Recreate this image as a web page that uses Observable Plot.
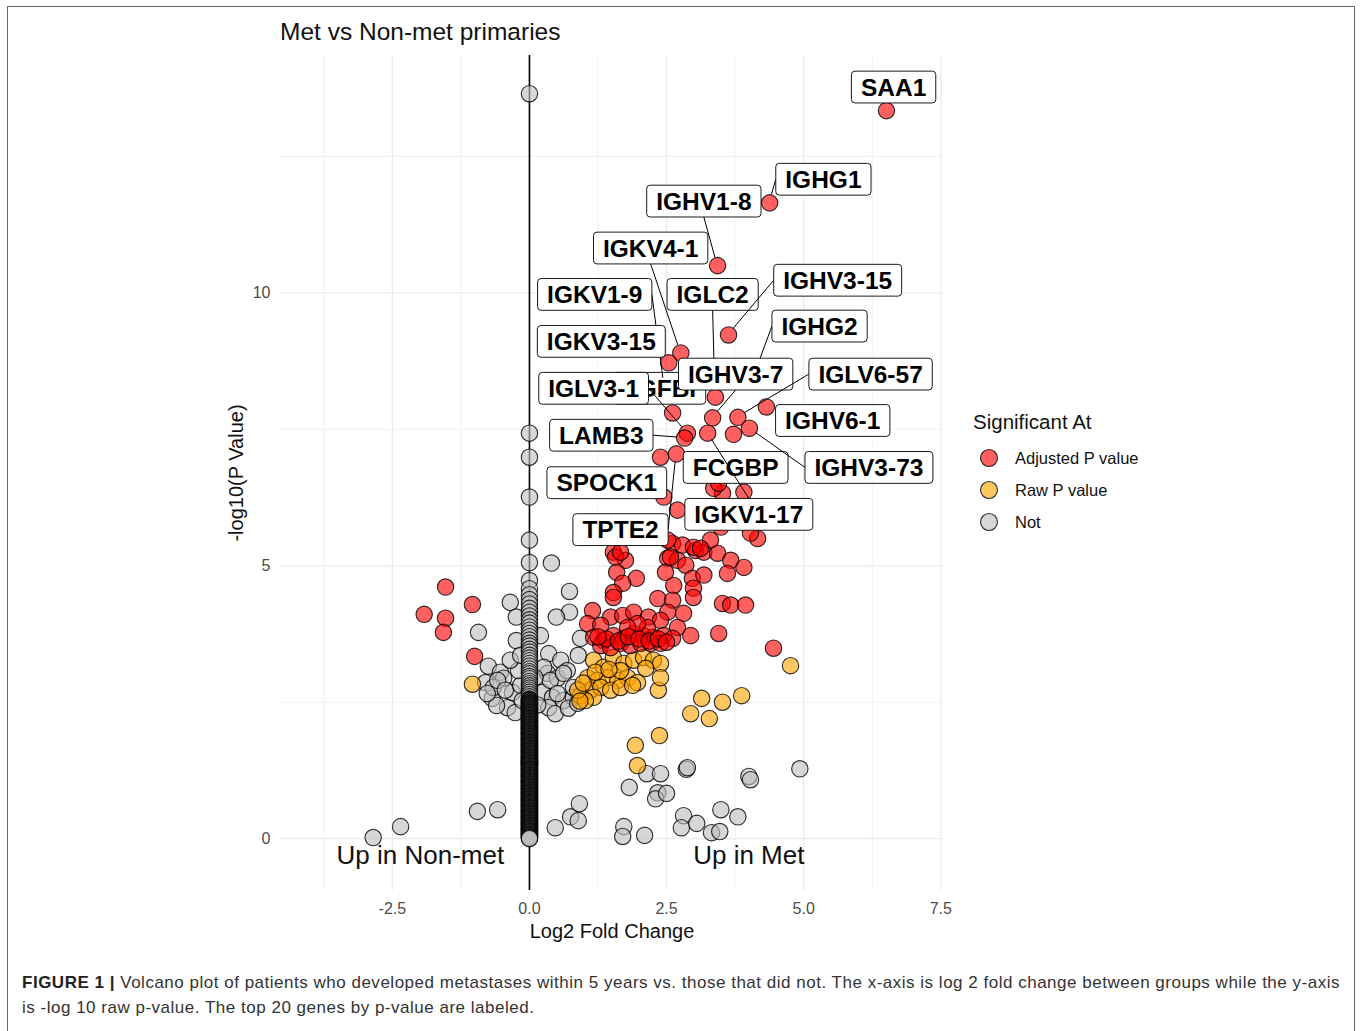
<!DOCTYPE html>
<html>
<head>
<meta charset="utf-8">
<script src="https://cdn.jsdelivr.net/npm/d3@7"></script>
<script src="https://cdn.jsdelivr.net/npm/@observablehq/plot@0.6"></script>
<style>
  html, body { margin: 0; padding: 0; background: #fff; }
  body { width: 1363px; height: 1031px; position: relative; overflow: hidden; font-family: "Liberation Sans", Arial, sans-serif; }
  #frame { position: absolute; left: 7px; top: 6px; width: 1348px; height: 1100px; border: 1.5px solid #666; border-bottom: none; box-sizing: border-box; }
  #title { position: absolute; left: 280px; top: 18px; font-size: 24.5px; color: #111; white-space: nowrap; }
  #chart { position: absolute; left: 0; top: 0; }
  #legend { position: absolute; left: 973px; top: 410px; color: #111; }
  #legend .lt { font-size: 20.5px; white-space: nowrap; }
  #legend .row { position: absolute; left: 0; white-space: nowrap; font-size: 16.5px; }
  #caption { position: absolute; left: 22px; top: 971px; font-size: 17px; line-height: 24.5px; color: #333; white-space: nowrap; }
  #caption b { color: #222; }
</style>
</head>
<body>
<div id="frame"></div>
<div id="chart"></div>
<div id="title">Met vs Non-met primaries</div>
<div id="legend"></div>
<div id="caption"><span id="cap1"><b>FIGURE 1 |</b> Volcano plot of patients who developed metastases within 5 years vs. those that did not. The x-axis is log 2 fold change between groups while the y-axis</span><br><span id="cap2">is -log 10 raw p-value. The top 20 genes by p-value are labeled.</span></div>
<script>
// ---------------- DATA (log2 fold change, -log10 p) ----------------
const groups = ["Adjusted P value", "Raw P value", "Not"];
const groupFills = ["#ff0000", "#ffa500", "#bebebe"];
const legendTitle = "Significant At";

const xTicks = [-2.5, 0, 2.5, 5, 7.5];
const xMinor = [-3.75, -1.25, 1.25, 3.75, 6.25];
const yTicks = [0, 5, 10];
const yMinor = [2.5, 7.5, 12.5];

// not significant (grey), off the zero column
const notSig = [
  [-0.93,3.78],[-0.35,4.33],[-0.24,4.06],[-0.75,3.16],[-0.80,2.86],[-0.68,2.57],[-0.53,3.05],[-0.47,2.94],
  [-0.40,2.40],[-0.26,2.31],[-0.66,2.77],[-0.31,2.68],[-0.58,2.90],[-0.44,2.72],[-0.16,2.81],[-0.13,2.53],
  [-0.60,2.44],[-0.20,3.08],[-0.77,2.66],[-0.35,3.27],[-0.24,3.63],[-0.16,3.36],
  [0.40,5.05],[0.73,4.53],[0.73,4.15],[0.49,4.06],[0.20,3.72],[0.35,3.39],[0.57,3.27],[0.93,3.67],
  [0.89,3.36],[0.33,3.03],[0.51,2.94],[0.69,3.08],[0.24,2.68],[0.42,2.59],[0.62,2.53],[0.80,2.59],
  [0.35,2.40],[0.47,2.29],[0.71,2.39],[0.88,2.48],[0.26,3.14],[0.38,2.90],[0.62,3.03],[0.80,2.77],
  [0.51,2.66],[0.15,2.45],[0.10,2.95],
  [2.14,1.19],[2.39,1.19],[2.86,1.27],[2.88,1.30],[4.00,1.14],[4.03,1.08],[4.93,1.28],[1.82,0.94],
  [2.34,0.84],[2.30,0.73],[2.50,0.83],[-0.95,0.50],[-0.58,0.53],[-2.35,0.22],[-2.85,0.02],[0.47,0.20],
  [0.75,0.40],[0.91,0.64],[0.89,0.33],[1.72,0.22],[1.70,0.04],[2.10,0.06],[2.81,0.42],[2.77,0.20],
  [3.05,0.28],[3.49,0.53],[3.80,0.40],[3.32,0.11],[3.47,0.13]
];
// not significant genes piled up at log2 fold change 0 (sparse top, solid pile below ~2.6)
const zeroColumnY = [13.65,7.43,6.99,6.26,5.47,5.06,4.73,4.58,4.47,4.38,4.30,4.22,4.15,4.08,4.01,3.95,3.88,3.82,3.76,
  3.70,3.64,3.58,3.53,3.47,3.42,3.36,3.31,3.26,3.21,3.16,3.11,3.06,3.02,2.97,2.93,2.88,2.84,2.80,2.76,2.72,2.68,
  2.64,2.60,
  2.56,2.54,2.52,2.50,2.48,2.46,2.44,2.42,2.40,2.38,2.36,2.34,2.32,2.30,2.28,2.26,2.24,2.22,2.20,2.18,2.16,2.14,
  2.12,2.10,2.08,2.06,2.04,2.02,2.00,1.98,1.96,1.94,1.92,1.90,1.88,1.86,1.84,1.82,1.80,1.78,1.76,1.74,1.72,1.70,
  1.68,1.66,1.64,1.62,1.60,1.58,1.56,1.54,1.52,1.50,1.48,1.46,1.44,1.42,1.40,1.38,1.36,1.34,1.32,1.30,1.28,1.26,
  1.24,1.22,1.20,1.18,1.16,1.14,1.12,1.10,1.08,1.06,1.04,1.02,1.00,0.98,0.96,0.94,0.92,0.90,0.88,0.86,0.84,0.82,
  0.80,0.78,0.76,0.74,0.72,0.70,0.68,0.66,0.64,0.62,0.60,0.58,0.56,0.54,0.52,0.50,0.48,0.46,0.44,0.42,0.40,0.38,
  0.36,0.34,0.32,0.30,0.28,0.26,0.24,0.22,0.20,0.18,0.16,0.14,0.12,0.10,0.08,0.06,0.04,0.02,0.00];
// more genes in the solid pile (the dense black part of the zero column)
const zeroColumnDenseY = [2.55,2.53,2.51,2.49,2.47,2.45,2.43,2.41,2.39,2.37,2.35,2.33,2.31,2.29,2.27,2.25,2.23,2.21,
  2.19,2.17,2.15,2.13,2.11,2.09,2.07,2.05,2.03,2.01,1.99,1.97,1.95,1.93,1.91,1.89,1.87,1.85,1.83,1.81,1.79,1.77,
  1.75,1.73,1.71,1.69,1.67,1.65,1.63,1.61,1.59,1.57,1.55,1.53,1.51,1.49,1.47,1.45,1.43,1.41,1.39,1.37,1.35,1.33,
  1.31,1.29,1.27,1.25,1.23,1.21,1.19,1.17,1.15,1.13,1.11,1.09,1.07,1.05,1.03,1.01,0.99,0.97,0.95,0.93,0.91,0.89,
  0.87,0.85,0.83,0.81,0.79,0.77,0.75,0.73,0.71,0.69,0.67,0.65,0.63,0.61,0.59,0.57,0.55,0.53,0.51,0.49,0.47,0.45,
  0.43,0.41,0.39,0.37,0.35,0.33,0.31,0.29,0.27,0.25,0.23,0.21,0.19,0.17,0.15,0.13,0.11,0.09,0.07,0.05,0.03,0.01];

// significant at raw p value (orange)
const rawSig = [
  [-1.04,2.83],[4.76,3.17],[3.14,2.57],[3.52,2.50],[3.87,2.62],[2.94,2.29],[3.28,2.20],[2.35,2.72],
  [1.93,1.71],[2.37,1.89],[1.97,1.34],
  [1.17,3.27],[1.35,3.14],[1.53,3.32],[1.72,3.21],[1.90,3.27],[2.08,3.32],[2.26,3.27],[2.39,3.21],
  [2.39,2.95],[1.06,2.95],[1.24,2.90],[1.42,2.95],[1.61,2.90],[1.79,2.95],[1.97,2.86],[1.11,2.72],
  [1.30,2.77],[1.48,2.72],[1.66,2.77],[1.88,2.81],[0.93,2.62],[1.17,2.59],[1.02,2.53],[0.88,2.72],
  [1.66,3.08],[2.12,3.12],[0.98,2.85],[1.20,3.05],[1.45,3.10],[0.92,2.52]
];

// significant at adjusted p value (red), unlabeled
const adjSig = [
  [-1.53,4.61],[-1.04,4.29],[-1.92,4.11],[-1.53,4.04],[-1.57,3.78],[-1.00,3.34],
  [1.53,5.25],[1.75,5.10],[1.59,4.88],[1.95,4.77],[1.70,4.68],[1.53,4.51],[1.53,4.42],[2.61,5.41],
  [2.79,5.38],[3.03,5.28],[3.18,5.25],[3.43,5.23],[3.67,5.10],[3.91,4.97],[4.16,5.50],[2.52,5.14],
  [2.70,5.10],[2.85,5.01],[2.48,4.88],[2.97,4.77],[3.18,4.83],[3.61,4.86],[2.63,4.64],[2.99,4.59],
  [2.99,4.42],[2.34,4.40],[2.61,4.37],[3.52,4.31],[3.67,4.28],[3.94,4.28],[2.52,4.15],[2.81,4.13],
  [1.15,4.18],[1.48,4.06],[1.70,4.09],[1.90,4.15],[2.17,4.06],[2.39,4.00],[1.06,3.94],[1.30,3.91],
  [2.70,3.87],[2.94,3.72],[3.45,3.76],[4.45,3.49],[1.17,3.69],[1.35,3.63],[1.53,3.72],[1.72,3.67],
  [1.90,3.76],[2.08,3.72],[2.26,3.69],[2.45,3.72],[2.61,3.67],[1.30,3.54],[1.48,3.50],[1.66,3.58],
  [1.84,3.54],[2.03,3.58],[2.21,3.58],[2.39,3.58],[2.15,3.87],[1.97,3.94],[1.79,3.87],
  [1.40,3.66],[1.62,3.62],[1.80,3.70],[2.00,3.66],[2.18,3.62],[2.35,3.66],[1.25,3.70],[2.50,3.60],
  [2.39,6.99],[2.70,6.02],[3.52,6.33],[3.91,6.35],[3.36,6.42],[3.45,6.51],[4.03,5.60],[3.49,5.71],
  [3.30,5.47],[2.99,5.34],[3.12,5.32],[2.52,5.47],[2.57,5.16],[1.57,5.16],[1.66,5.25]
];

// top 20 genes: drawing order, point position and label (box centre) position
const labelGenes  = ["TGFBI","IGKV1-9","IGLC2","IGHG2","FCGBP","SAA1","IGHG1","IGHV1-8","IGKV4-1","IGHV3-15",
                     "IGKV3-15","IGHV3-7","IGLV6-57","IGLV3-1","IGHV6-1","LAMB3","IGHV3-73","SPOCK1","TPTE2","IGKV1-17"];
const labelPointX = [2.61, 2.46, 3.39, 4.07, 3.72, 6.51, 4.38, 3.43, 2.76, 3.63,
                     2.54, 3.34, 3.80, 2.88, 4.32, 2.83, 4.01, 2.45, 2.68, 3.25];
const labelPointY = [7.80, 8.29, 8.09, 8.40, 7.41, 13.34, 11.65, 10.50, 8.90, 9.23,
                     8.72, 7.71, 7.72, 7.43, 7.91, 7.34, 7.52, 6.26, 7.05, 7.43];
const labelBoxX   = [2.37, 1.19, 3.34, 5.29, 3.76, 6.64, 5.36, 3.18, 2.21, 5.62,
                     1.31, 3.76, 6.22, 1.17, 5.53, 1.31, 6.19, 1.41, 1.66, 4.00];
const labelBoxY   = [8.24, 9.96, 9.96, 9.38, 6.79, 13.76, 12.07, 11.67, 10.81, 10.22,
                     9.10, 8.50, 8.50, 8.24, 7.65, 7.38, 6.79, 6.51, 5.65, 5.93];

const sideNotes = ["Up in Non-met", "Up in Met"];
const sideNoteX = [-1.99, 4.0];
const sideNoteY = [-0.31, -0.31];

const xLabel = "Log2 Fold Change";
const yLabel = "-log10(P Value)";

// ---------------- TABLES ----------------
const pileY = [...zeroColumnY, ...zeroColumnDenseY].sort((a, b) => b - a);
const points = [
  ...notSig.map(([x, y]) => ({x, y, g: "Not"})),
  ...pileY.map(y => ({x: 0, y, g: "Not"})),
  ...rawSig.map(([x, y]) => ({x, y, g: "Raw P value"})),
  ...adjSig.map(([x, y]) => ({x, y, g: "Adjusted P value"})),
  ...labelGenes.map((gene, i) => ({x: labelPointX[i], y: labelPointY[i], g: "Adjusted P value"}))
];
const labelRows = labelGenes.map((gene, i) => ({gene, px: labelPointX[i], py: labelPointY[i], bx: labelBoxX[i], by: labelBoxY[i]}));
const notes = sideNotes.map((t, i) => ({t, x: sideNoteX[i], y: sideNoteY[i]}));

const labelMarks = [];
labelRows.forEach((row, i) => {
  labelMarks.push(Plot.link([row], {x1: "bx", y1: "by", x2: "px", y2: "py", stroke: "black", strokeWidth: 1, className: `seg-${i}`}));
  labelMarks.push(Plot.text([row], {x: "bx", y: "by", text: "gene", fontSize: 24.5, fontWeight: "bold", fill: "black", className: `lbl-${i}`}));
});

const plot = Plot.plot({
  width: 960,
  height: 950,
  marginLeft: 280,
  marginRight: 17,
  marginTop: 55,
  marginBottom: 60,
  x: {domain: [-4.54, 7.55]},
  y: {domain: [-0.95, 14.35]},
  color: {domain: groups, range: groupFills},
  style: {fontFamily: "'Liberation Sans', Arial, sans-serif", fontSize: "16px", background: "transparent", overflow: "visible"},
  marks: [
    Plot.ruleX(xMinor, {stroke: "#ebebeb", strokeWidth: 0.7}),
    Plot.ruleY(yMinor, {stroke: "#ebebeb", strokeWidth: 0.7}),
    Plot.ruleX(xTicks, {stroke: "#ebebeb", strokeWidth: 1.3}),
    Plot.ruleY(yTicks, {stroke: "#ebebeb", strokeWidth: 1.3}),
    Plot.axisX(xTicks, {tickSize: 0, tickPadding: 12, color: "#4d4d4d", tickFormat: d => d.toFixed(1), label: null}),
    Plot.axisY(yTicks, {tickSize: 0, tickPadding: 10, color: "#4d4d4d", tickFormat: d => String(d), label: null}),
    Plot.ruleX([0], {stroke: "black", strokeWidth: 1.6}),
    Plot.dot(points, {x: "x", y: "y", r: 8.2, fill: "g", fillOpacity: 0.62, stroke: "black", strokeOpacity: 0.8, strokeWidth: 1.15}),
    Plot.text(notes, {x: "x", y: "y", text: "t", fontSize: 26, fill: "#111"}),
    Plot.text([xLabel], {text: d => d, frameAnchor: "bottom", lineAnchor: "middle", dy: 41, fontSize: 20, fill: "#111"}),
    Plot.text([yLabel], {text: d => d, frameAnchor: "left", textAnchor: "middle", lineAnchor: "middle", dx: -44, rotate: -90, fontSize: 20, fill: "#111"}),
    ...labelMarks
  ]
});
document.getElementById("chart").append(plot);

// ---------------- label boxes & repel-style segments ----------------
function tr(el) {
  const t = el && el.getAttribute && el.getAttribute("transform");
  if (!t) return [0, 0];
  const m = /translate\(\s*([-\d.e]+)[\s,]+([-\d.e]+)\s*\)/.exec(t);
  return m ? [+m[1], +m[2]] : [0, 0];
}
const xs = plot.scale("x"), ys = plot.scale("y");
const NS = "http://www.w3.org/2000/svg";
labelRows.forEach((row, i) => {
  const g = plot.querySelector(`g.lbl-${i}`);
  const t = g.querySelector("text");
  const bb = t.getBBox();
  const padX = 9.5, padY = 2.4;
  const rect = document.createElementNS(NS, "rect");
  rect.setAttribute("x", bb.x - padX);
  rect.setAttribute("y", bb.y - padY);
  rect.setAttribute("width", bb.width + 2 * padX);
  rect.setAttribute("height", bb.height + 2 * padY);
  rect.setAttribute("rx", 3.5);
  rect.setAttribute("fill", "white");
  rect.setAttribute("stroke", "black");
  rect.setAttribute("stroke-width", 0.9);
  if (t.getAttribute("transform")) rect.setAttribute("transform", t.getAttribute("transform"));
  t.parentNode.insertBefore(rect, t);
  const [gx, gy] = tr(g), [tx, ty] = tr(t);
  const x0 = bb.x - padX + tx + gx, x1 = x0 + bb.width + 2 * padX;
  const y0 = bb.y - padY + ty + gy, y1 = y0 + bb.height + 2 * padY;
  const cx = (x0 + x1) / 2, cy = (y0 + y1) / 2;
  const px = xs.apply(row.px), py = ys.apply(row.py);
  const cands = [[x0, cy], [x1, cy], [cx, y0], [cx, y1]];
  let best = cands[0], bd = Infinity;
  for (const c of cands) { const d = Math.hypot(c[0] - px, c[1] - py); if (d < bd) { bd = d; best = c; } }
  const sg = plot.querySelector(`g.seg-${i}`);
  const path = sg.querySelector("path");
  const [sx, sy] = tr(sg);
  if (bd < 22) { path.remove(); return; }
  const ex = px - (px - best[0]) / bd * 8, ey = py - (py - best[1]) / bd * 8;
  path.setAttribute("d", `M${best[0] - sx},${best[1] - sy}L${ex - sx},${ey - sy}`);
});

// ---------------- legend ----------------
const legend = document.getElementById("legend");
const lt = document.createElement("div");
lt.className = "lt";
lt.textContent = legendTitle;
legend.append(lt);
groups.forEach((gname, i) => {
  const row = document.createElement("div");
  row.className = "row";
  row.style.top = (37 + i * 32) + "px";
  row.innerHTML = `<svg width="34" height="22" style="vertical-align:middle"><circle cx="16" cy="11" r="8.5" fill="${groupFills[i]}" fill-opacity="0.62" stroke="black" stroke-opacity="0.8" stroke-width="1.15"/></svg><span style="margin-left:8px;vertical-align:middle">${gname}</span>`;
  legend.append(row);
});

// fit the first caption line to the reference width
const cap1 = document.getElementById("cap1");
const w = cap1.getBoundingClientRect().width;
const n = cap1.textContent.length;
const ls = (1318 - w) / n;
document.getElementById("caption").style.letterSpacing = ls + "px";
</script>
</body>
</html>
